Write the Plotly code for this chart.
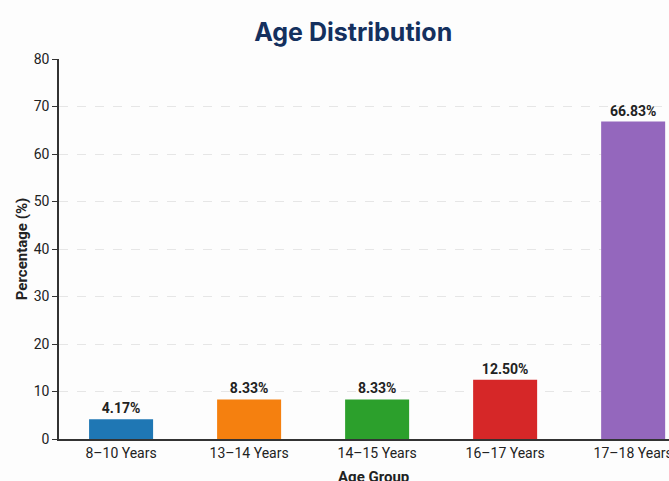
import plotly.graph_objects as go

# Age group shares (percent)
age_groups = ["8–10 Years", "13–14 Years", "14–15 Years", "16–17 Years", "17–18 Years"]
percentages = [4.17, 8.33, 8.33, 12.50, 66.83]
bar_colors = ["#1f77b4", "#f5800f", "#2ca02c", "#d62728", "#9467bd"]
y_ticks = [0, 10, 20, 30, 40, 50, 60, 70, 80]

title_font = "Inter, Roboto, Arial, sans-serif"
body_font = "Roboto, Arial, sans-serif"

fig = go.Figure(
    go.Bar(
        x=list(range(len(age_groups))),
        y=percentages,
        marker=dict(color=bar_colors, line=dict(width=0)),
        width=0.5,
        text=[f"{v:.2f}%" for v in percentages],
        textposition="outside",
        textfont=dict(size=14, color="#222222", family=body_font, weight="bold"),
        cliponaxis=False,
    )
)

fig.update_layout(
    width=669,
    height=481,
    margin=dict(l=59, r=0, t=59, b=42),
    paper_bgcolor="#fdfdfd",
    plot_bgcolor="#fdfdfd",
    showlegend=False,
    font=dict(family=body_font, color="#222222"),
    title=dict(
        text="<b>Age Distribution</b>",
        x=0.528,
        xanchor="center",
        y=0.932,
        yanchor="middle",
        font=dict(size=25, color="#14305e", family=title_font),
    ),
    bargap=0.5,
)

# x-axis title placed below the tick labels (centred on the full category span)
fig.add_annotation(
    text="<b>Age Group</b>",
    xref="paper",
    yref="paper",
    x=0.515,
    y=0,
    xanchor="center",
    yanchor="middle",
    yshift=-38,
    showarrow=False,
    font=dict(size=15, color="#222222", family=body_font),
)

fig.update_xaxes(
    tickmode="array",
    tickvals=list(range(len(age_groups))),
    ticktext=age_groups,
    range=[-0.485, 4.28],
    automargin=False,
    ticklabeloverflow="allow",
    showline=True,
    linecolor="#333333",
    linewidth=1.5,
    ticks="",
    showgrid=False,
    tickfont=dict(size=14, color="#222222"),
    zeroline=False,
)

fig.update_yaxes(
    range=[0, 80],
    tickmode="array",
    tickvals=y_ticks,
    automargin=False,
    showline=True,
    linecolor="#333333",
    linewidth=1.5,
    ticks="outside",
    ticklen=5,
    tickcolor="#333333",
    tickfont=dict(size=14, color="#222222"),
    showgrid=True,
    gridcolor="#e6e6e6",
    griddash="dash",
    gridwidth=1,
    zeroline=False,
    title=dict(text="<b>Percentage (%)</b>", font=dict(size=15, color="#222222"), standoff=2),
)

fig.write_html("out.html")
